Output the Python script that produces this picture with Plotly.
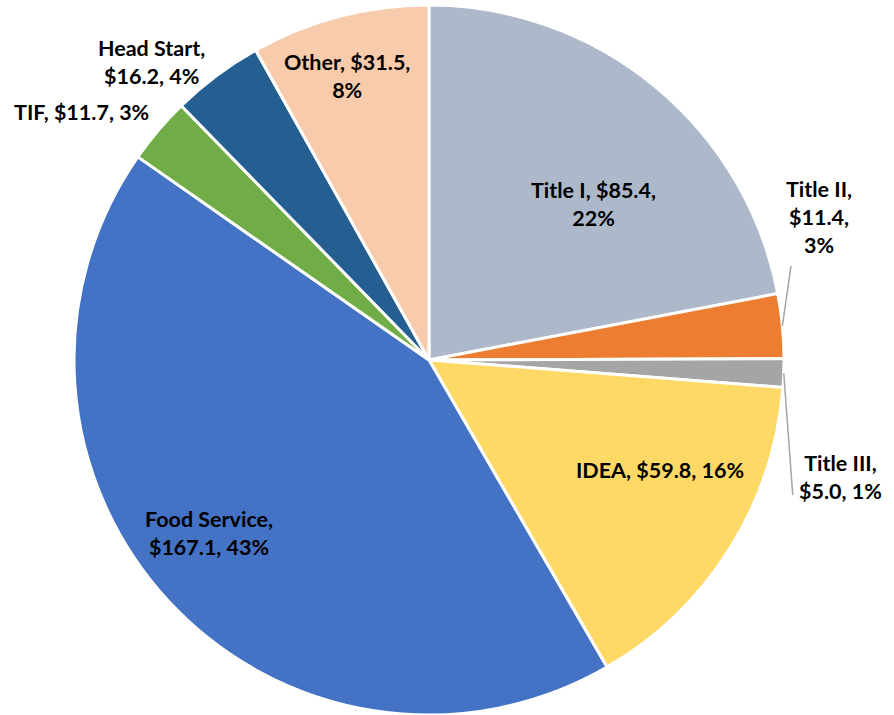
import math
import plotly.graph_objects as go

# ---- data ----
categories = ["Title I", "Title II", "Title III", "IDEA", "Food Service", "TIF", "Head Start", "Other"]
amounts = [85.4, 11.4, 5.0, 59.8, 167.1, 11.7, 16.2, 31.5]
pct_labels = ["22%", "3%", "1%", "16%", "43%", "3%", "4%", "8%"]
colors = ["#ADB9CA", "#ED7D31", "#A5A5A5", "#FFD966", "#4472C4", "#70AD47", "#255E91", "#F8CBAD"]

# label text layout (line breaks) per slice
label_fmt = [
    "{c}, ${v:.1f},<br>{p}",
    "{c},<br>${v:.1f},<br>{p}",
    "{c},<br>${v:.1f}, {p}",
    "{c}, ${v:.1f}, {p}",
    "{c},<br>${v:.1f}, {p}",
    "{c}, ${v:.1f}, {p}",
    "{c},<br>${v:.1f}, {p}",
    "{c}, ${v:.1f},<br>{p}",
]
# label placement: radial fraction of anchor, pixel shift (dx, dy down-positive)
label_pos = [
    (0.65, 17, 22),
    (1.0, 37, -109),
    (1.0, 57, 104),
    (0.70, 21, -22),
    (0.60, -63, 29),
    (1.0, -77, -18),
    (1.0, -65, -13),
    (0.80, -10, -9),
]
# leader lines: slice index -> pixel offset of the line end from the slice edge
leaders = {1: (8.6, -60), 2: (9, 122)}

W, H = 894, 715
cx_px, cy_px, R = 429, 360, 355
dom_x = [(cx_px - R) / W, (cx_px + R) / W]
dom_y = [1 - (cy_px + R) / H, 1 - (cy_px - R) / H]

fig = go.Figure(go.Pie(
    labels=categories,
    values=amounts,
    sort=False,
    direction="clockwise",
    rotation=0,
    marker=dict(colors=colors, line=dict(color="white", width=3)),
    textinfo="none",
    showlegend=False,
    domain=dict(x=dom_x, y=dom_y),
))

total = sum(amounts)
cum = 0
annotations = []
shapes = []
for i, (c, v) in enumerate(zip(categories, amounts)):
    mid = (cum + v / 2) / total * 2 * math.pi
    cum += v
    rf, dx, dy = label_pos[i]
    px = cx_px + rf * R * math.sin(mid)
    py = cy_px - rf * R * math.cos(mid)
    annotations.append(dict(
        x=px / W, y=1 - py / H, xref="paper", yref="paper",
        text=label_fmt[i].format(c=c, v=v, p=pct_labels[i]),
        showarrow=False, xshift=dx, yshift=-dy,
        font=dict(family="Lato", size=21.5, color="#000000", weight="bold"),
        align="center", xanchor="center", yanchor="middle",
    ))
    if i in leaders:
        ex = cx_px + R * math.sin(mid)
        ey = cy_px - R * math.cos(mid)
        ox, oy = leaders[i]
        shapes.append(dict(
            type="line", xref="paper", yref="paper",
            xsizemode="pixel", ysizemode="pixel",
            xanchor=ex / W, yanchor=1 - ey / H,
            x0=0, y0=0, x1=ox, y1=-oy,
            line=dict(color="#A5A5A5", width=1.5),
        ))

fig.update_layout(
    width=W, height=H,
    margin=dict(l=0, r=0, t=0, b=0),
    paper_bgcolor="white",
    plot_bgcolor="white",
    annotations=annotations,
    shapes=shapes,
    font=dict(family="Lato"),
)

fig.write_html("out.html", config={"displayModeBar": False},
               post_script="document.body.style.margin='0';")
